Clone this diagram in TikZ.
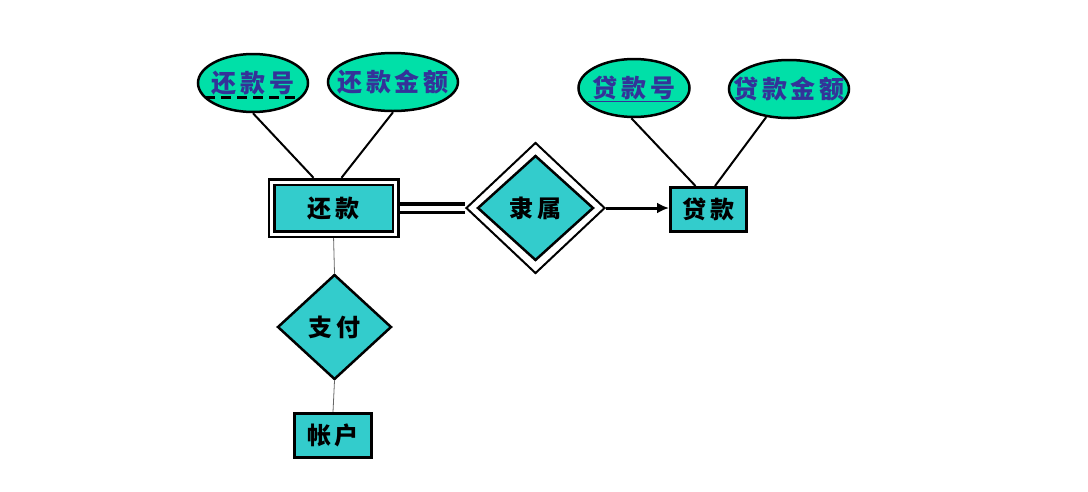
\documentclass[tikz,border=0pt]{standalone}
\usepackage{fontspec}
\newfontfamily\cjkfont{Noto Sans CJK SC}[LetterSpace=15]
\usetikzlibrary{shapes.geometric}
\usetikzlibrary{arrows.meta}
\usetikzlibrary{calc}
\usetikzlibrary{backgrounds}
\definecolor{attrgreen}{RGB}{0,224,168}
\definecolor{entcyan}{RGB}{51,204,204}
\definecolor{attrtext}{RGB}{51,51,153}

\begin{document}
\begin{tikzpicture}[x=1pt,y=-1pt,>/.tip={Latex[length=12pt,width=11pt]},
	attr/.style={draw,shape=ellipse,fill=attrgreen,line width=2.5pt,inner ysep=0pt,inner xsep=-17pt,text=attrtext,font=\cjkfont\bfseries\fontsize{25}{25}\selectfont},
	entity/.style={draw,fill=entcyan,line width=3pt,inner sep=0pt,font=\cjkfont\bfseries\fontsize{24}{24}\selectfont},
	relation/.style={draw,shape=diamond,fill=entcyan,line width=2.5pt,inner sep=0pt,font=\cjkfont\bfseries\fontsize{24}{24}\selectfont}]
	\useasboundingbox (0,0) rectangle (1088,491);
	% attributes
	\draw (253,83) node(hkh) [attr,minimum width=110pt,minimum height=58pt] {还款号};
	\draw (393,82) node(hkje) [attr,minimum width=130pt,minimum height=58pt] {还款金额};
	\draw (634,88) node(dkh) [attr,minimum width=111pt,minimum height=58pt] {贷款号};
	\draw (789,89) node(dkje) [attr,minimum width=120pt,minimum height=58pt] {贷款金额};
	\draw[line width=3pt,dash pattern=on 10pt off 6pt] ($(hkh.center)+(-48,14)$) -- ($(hkh.center)+(44,14)$);
	\draw[attrtext,line width=1pt] ($(dkh.center)+(-46,13)$) -- ($(dkh.center)+(46,13)$);
	% entities
	\draw (333.5,208) node(hk) [entity,double,double distance=3pt,line width=2.5pt,minimum width=124pt,minimum height=52pt] {还款};
	\draw (708.5,209.5) node(dk) [entity,minimum width=76pt,minimum height=44pt] {贷款};
	\draw (333,435.5) node(zh) [entity,minimum width=77pt,minimum height=44pt] {帐户};
	% relationships
	\draw (535.5,208) node(rel-out) [relation,fill=white,line width=2pt,minimum width=139pt,minimum height=131pt] {};
	\draw (535.5,208) node(rel) [relation,minimum width=116pt,minimum height=105pt] {隶属};
	\draw (334.5,327) node(zf) [relation,minimum width=114pt,minimum height=105pt] {支付};
	% connectors
	\begin{scope}[on background layer]
		\draw[line width=2pt] (hkh.south) -- ($(hk.north)+(-20,-3)$);
		\draw[line width=2pt] (hkje.south) -- ($(hk.north)+(8,-3)$);
		\draw[line width=2pt] (dkh.265) -- ($(dk.north)+(-13,0)$);
		\draw[line width=2pt] (dkje.231) -- ($(dk.north)+(6.5,0)$);
		\draw[line width=3.5pt,double,double distance=5pt] (hk.east) -- (rel-out.west);
		\draw[gray!80!black,line width=0.8pt] (hk.south) -- (zf.north);
		\draw[gray!80!black,line width=0.8pt] (zf.south) -- (zh.north);
	\end{scope}
	\draw[->,line width=3pt] (rel-out.east) -- (rel-out.east -| dk.west);
\end{tikzpicture}
\end{document}
